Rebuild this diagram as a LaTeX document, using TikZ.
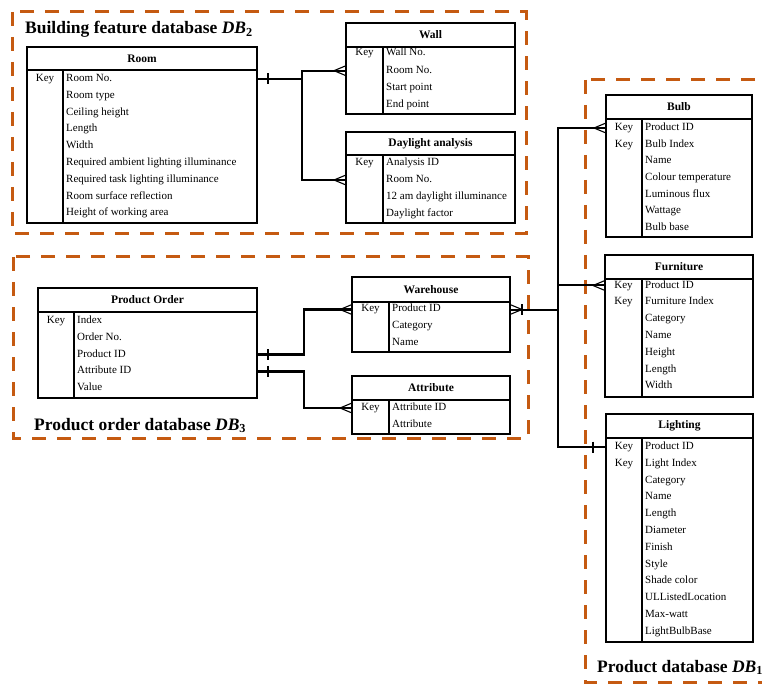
\documentclass[tikz,border=0pt]{standalone}
\usepackage{fontspec}
\setmainfont{Liberation Serif}
\usetikzlibrary{calc}
\definecolor{dborange}{RGB}{197,90,17}

\tikzset{
  erframe/.style={draw, line width=2pt, inner sep=0pt, outer sep=0pt},
  erline/.style={line width=2pt},
  erhead/.style={inner sep=0pt, font=\bfseries\fontsize{11.5}{13}\selectfont},
  erfield/.style={anchor=west, inner sep=0pt, font=\fontsize{11}{12}\selectfont,
                  text height=7pt, text depth=2pt},
  erkey/.style={inner sep=0pt, font=\fontsize{11}{12}\selectfont,
                text height=7pt, text depth=2pt},
  conn/.style={line width=2pt},
  connthick/.style={line width=2.8pt},
  erfoot/.style={line width=1.1pt},
  erbarline/.style={line width=2pt},
  dbbox/.style={draw=dborange, line width=3pt, dash pattern=on 14pt off 11pt},
  dbtitle/.style={anchor=base west, inner sep=0pt,
                  font=\bfseries\fontsize{17.5}{20}\selectfont},
}

% entity frame: name, x1, y1, x2, header bottom, y2, key divider, title
\newcommand\erbox[8]{%
  \node[erframe, anchor=north west, minimum width={#4-#2}, minimum height={#6-#3}]
    (#1) at (#2,#3) {};
  \draw[erline] (#2,#5) -- (#4,#5);
  \draw[erline] (#7,#5) -- (#7,#6);
  \node[erhead] (#1-head) at ({(#2+#4)/2},{(#3+#5)/2}) {#8};
}
% attributes: name, x1, key divider, first row y, row step, number of keys, list
\newcommand\erfields[7]{%
  \foreach \t [count=\i] in {#7} {
    \node[erfield] (#1-f\i) at ({#3+3},{#4+(\i-1)*#5}) {\t};
  }
  \foreach \k in {1,...,#6} {
    \node[erkey] (#1-k\k) at ({(#2+#3)/2},{#4+(\k-1)*#5}) {Key};
  }
}
% crow's foot at a box edge; #2 = 1 when the box is to the right, -1 when to the left
\newcommand\crowfoot[2]{%
  \draw[erfoot] ($(#1)+({-12*#2},0)$) -- ($(#1)+(0,-5)$)
                ($(#1)+({-12*#2},0)$) -- ($(#1)+(0,5)$);
}
% single bar across a connector
\newcommand\erbar[1]{%
  \draw[erbarline] ($(#1)+(0,-5.5)$) -- ($(#1)+(0,5.5)$);
}

\begin{document}
\begin{tikzpicture}[x=1pt, y=-1pt]
\useasboundingbox (0,0) rectangle (762,684);
\clip (0,0) rectangle (762,684);

% ---------------- database frames ----------------
\draw[dbbox] (12,12) rectangle (526,234);
\draw[dbbox] (13,257) rectangle (528,438);
\draw[dbbox] (585,80) rectangle (768,682);

\node[dbtitle] (db2) at (25,34) {Building feature database \textit{DB}\textsubscript{2}};
\node[dbtitle] (db3) at (34,430) {Product order database \textit{DB}\textsubscript{3}};
\node[dbtitle] (db1) at (597,672) {Product database \textit{DB}\textsubscript{1}};

% ---------------- building feature database ----------------
\erbox{room}{27}{47}{257}{70}{223}{63}{Room}
\erfields{room}{27}{63}{79}{16.8}{1}{Room No.,Room type,Ceiling height,Length,Width,
  Required ambient lighting illuminance,Required task lighting illuminance,
  Room surface reflection,Height of working area}

\erbox{wall}{346}{23}{515}{47}{114}{383}{Wall}
\erfields{wall}{346}{383}{53.5}{17.2}{1}{Wall No.,Room No.,Start point,End point}

\erbox{day}{346}{132}{515}{155}{223}{383}{Daylight analysis}
\erfields{day}{346}{383}{163}{17}{1}{Analysis ID,Room No.,12 am daylight illuminance,Daylight factor}

% ---------------- product order database ----------------
\erbox{po}{38}{288}{257}{312}{398}{74}{Product Order}
\erfields{po}{38}{74}{321}{16.8}{1}{Index,Order No.,Product ID,Attribute ID,Value}

\erbox{wh}{352}{277}{510}{302}{352}{389}{Warehouse}
\erfields{wh}{352}{389}{309.5}{16.8}{1}{Product ID,Category,Name}

\erbox{attr}{352}{376}{510}{400}{434}{389}{Attribute}
\erfields{attr}{352}{389}{408}{16.8}{1}{Attribute ID,Attribute}

% ---------------- product database ----------------
\erbox{bulb}{606}{95}{752}{119}{237}{642}{Bulb}
\erfields{bulb}{606}{642}{128}{16.7}{2}{Product ID,Bulb Index,Name,Colour temperature,
  Luminous flux,Wattage,Bulb base}

\erbox{furn}{605}{255}{753}{279}{397}{642}{Furniture}
\erfields{furn}{605}{642}{285.5}{16.8}{2}{Product ID,Furniture Index,Category,Name,
  Height,Length,Width}

\erbox{light}{606}{414}{753}{438}{642}{642}{Lighting}
\erfields{light}{606}{642}{447}{16.8}{2}{Product ID,Light Index,Category,Name,Length,
  Diameter,Finish,Style,Shade color,ULListedLocation,Max-watt,LightBulbBase}

% ---------------- relationships ----------------
% Room 1 -- n Wall, Daylight analysis
\coordinate (roomout) at (room.east |- room-f1);
\coordinate (jroom) at (302,0);
\coordinate (wallin) at (wall.west |- wall-f2);
\coordinate (dayin) at (day.west |- day-f2);
\draw[conn] (roomout) -- (jroom |- roomout) |- (wallin);
\draw[conn] (jroom |- roomout) |- (dayin);
\coordinate (roombar) at ($(roomout)+(11,0)$);
\erbar{roombar}
\crowfoot{wallin}{1}
\crowfoot{dayin}{1}

% Product Order -- Warehouse, Attribute
\coordinate (popid) at (po.east |- po-f3);
\coordinate (poaid) at (po.east |- po-f4);
\coordinate (jpo) at (304,0);
\coordinate (whin) at (wh.west |- wh-f1);
\coordinate (attrin) at (attr.west |- attr-f1);
\draw[connthick] (popid) -- (jpo |- popid) |- (whin);
\draw[connthick] (poaid) -- (jpo |- poaid) |- (attrin);
\coordinate (pobar1) at ($(popid)+(11,0)$);
\coordinate (pobar2) at ($(poaid)+(11,0)$);
\erbar{pobar1}
\erbar{pobar2}
\crowfoot{whin}{1}
\crowfoot{attrin}{1}

% Warehouse -- Bulb, Furniture, Lighting
\coordinate (whout) at (wh.east |- wh-f1);
\coordinate (jprod) at (558,0);
\coordinate (bulbin) at (bulb.west |- bulb-f1);
\coordinate (furnin) at (furn.west |- furn-f1);
\coordinate (lightin) at (light.west |- light-f1);
\draw[conn] (whout) -- (jprod |- whout);
\draw[conn] (bulbin) -| (jprod |- lightin) -- (lightin);
\draw[conn] (jprod |- furnin) -- (furnin);
\crowfoot{whout}{-1}
\coordinate (whbar) at ($(whout)+(12,0)$);
\erbar{whbar}
\crowfoot{bulbin}{1}
\crowfoot{furnin}{1}
\coordinate (lightbar) at ($(lightin)+(-13,0)$);
\erbar{lightbar}
\end{tikzpicture}
\end{document}
